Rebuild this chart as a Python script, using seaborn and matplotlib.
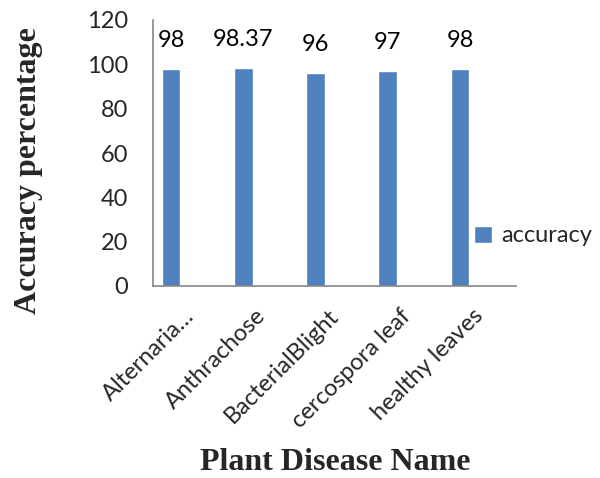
import matplotlib
matplotlib.use("Agg")
import matplotlib.pyplot as plt
import matplotlib.transforms as mtransforms
import seaborn as sns
import pandas as pd

categories = ["Alternaria…", "Anthrachose", "BacterialBlight", "cercospora leaf", "healthy leaves"]
accuracy = [98, 98.37, 96, 97, 98]
value_labels = ["98", "98.37", "96", "97", "98"]
yticks = [0, 20, 40, 60, 80, 100, 120]

sns.set_theme(style="white")
plt.rcParams['font.family'] = ['Lato', 'DejaVu Sans']

df = pd.DataFrame({"disease": categories, "accuracy": accuracy})

fig = plt.figure(figsize=(6, 4.78), dpi=100)
ax = fig.add_axes([153/600, 1-286/478, (516-153)/600, (286-20)/478])

sns.barplot(data=df, x="disease", y="accuracy", color="#4F81BD", width=0.26,
            saturation=1, ax=ax, label="accuracy")

ax.set_ylim(0, 120)
ax.set_yticks(yticks)
ax.set_yticklabels([str(t) for t in yticks], fontsize=17)
ax.set_xlim(-0.249, 4.775)
ax.set_xlabel("")
ax.set_ylabel("")

for s in ["top", "right"]:
    ax.spines[s].set_visible(False)
for s in ["left", "bottom"]:
    ax.spines[s].set_color("#868686")
    ax.spines[s].set_linewidth(1.2)
ax.tick_params(axis="both", length=0)
ax.tick_params(axis="y", pad=18)
ax.tick_params(axis="x", pad=0)

ax.set_xticks(range(len(categories)))
ax.set_xticklabels(categories, rotation=45, ha="right", va="top",
                   rotation_mode="anchor", fontsize=17)
offset = mtransforms.ScaledTranslation(0.12, -0.19, fig.dpi_scale_trans)
for lab in ax.get_xticklabels():
    lab.set_transform(lab.get_transform() + offset)

for i, (v, t) in enumerate(zip(accuracy, value_labels)):
    ax.annotate(t, (i, v), xytext=(0, 13), textcoords="offset points",
                ha="center", va="bottom", fontsize=17, color="black")

ax.legend(loc="center left", bbox_to_anchor=(465/600, 1-236/478),
          bbox_transform=fig.transFigure, frameon=False, fontsize=17,
          handlelength=0.75, handleheight=0.75, handletextpad=0.4, borderaxespad=0)

fig.text(29/600, 1-171/478, "Accuracy percentage", rotation=90, ha="center", va="center",
         fontsize=23, fontweight="bold", family="Liberation Serif")
fig.text(335/600, 1-462/478, "Plant Disease Name", ha="center", va="center",
         fontsize=23, fontweight="bold", family="Liberation Serif")

fig.savefig("out.png", dpi=100)
